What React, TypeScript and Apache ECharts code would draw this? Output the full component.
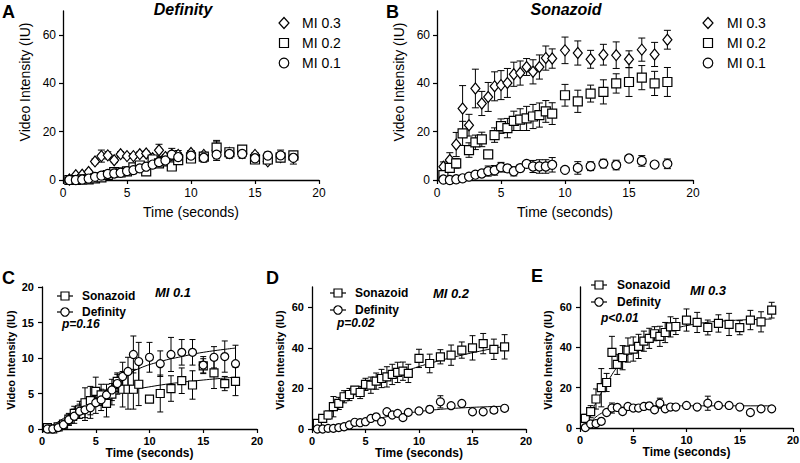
import React, { useEffect, useRef } from 'react';
import * as echarts from 'echarts';

// ---------- data ----------
const time = [0.5, 1, 1.5, 2, 2.5, 3, 3.5, 4, 4.5, 5, 5.5, 6, 6.5, 7, 7.5, 8, 8.5, 9, 10, 11, 12, 13, 14, 15, 16, 17, 18];
const xTicks = [0, 5, 10, 15, 20];
const yTicksWide = [0, 20, 40, 60];
const yTicksNarrow = [0, 5, 10, 15, 20];

// Sonazoid as shown in panel B
const sonazoidB03 = [5.5, 8.3, 14.7, 29.6, 22.7, 37.9, 31.7, 34.4, 38.8, 39.3, 40.2, 43.8, 44.3, 46.8, 44.8, 46.8, 50.5, 50.3, 53.7, 52.6, 50, 51.9, 51.7, 50, 54, 52, 58.1];
const sonazoidB02 = [2, 5, 6.9, 19.3, 12.4, 15.6, 16.8, 10.6, 18.6, 22.3, 21.5, 24.5, 25, 25.5, 26.3, 26.9, 28.4, 27.5, 35.1, 32.6, 35.8, 36.5, 40, 40.6, 42.4, 40, 40.6];
// Sonazoid as shown in panels D / E
const sonazoidE03 = [4.8, 8.1, 14.4, 20, 22.6, 37.5, 31.6, 34.9, 38.7, 39.2, 40.5, 43.1, 44.5, 46.8, 45.5, 47.4, 50.2, 50.4, 53.6, 52.4, 49.9, 51.9, 51.4, 49.8, 53.6, 52.7, 58.5];
const sonazoidD02 = [2.8, 5.2, 6.9, 11, 12.6, 15.9, 17, 19.2, 18, 22, 21.6, 23.6, 24.9, 25.7, 26.9, 27.9, 28.5, 27.4, 34.8, 32.3, 35.6, 36.4, 38.9, 40, 42.1, 39.3, 40.5];
const sonazoid01 = [0.2, 0, 0.3, 0.7, 1.4, 2.2, 2.7, 3.7, 4, 5.3, 4.8, 3.6, 4.9, 6.7, 5.6, 5.6, 5.6, 6.3, 4.2, 5, 5.7, 6.8, 6.2, 8.9, 7.9, 6.4, 6.7];
const sonazoid03Err = [2, 3, 5, 9.5, 4.5, 8, 5, 6, 6, 6, 6, 5, 5, 3.5, 5, 5, 5, 4, 5.5, 5, 3.7, 4.3, 5.5, 3.5, 4.8, 5, 3.9];
const sonazoid02Err = [1, 1.5, 2, 5, 3, 3, 3, 1, 3, 3, 4, 4, 4.5, 5, 5, 5, 4.5, 4.5, 4.5, 4.6, 3.5, 5, 4, 6, 5, 5, 6];
const sonazoid01Err = [0.3, 0.3, 0.3, 0.5, 0.8, 1, 1.2, 2.1, 2, 2, 1.5, 1.9, 1.5, 1, 2.5, 2.8, 2.8, 3, 0.3, 2.6, 1.8, 1.8, 2, 1, 2.2, 1, 2];

// Definity
const definity03 = [0.2, 2, 2.2, 3.3, 7.7, 9.9, 10.2, 8.2, 10.7, 9.9, 9.9, 10.7, 11, 9, 12.3, 9.5, 10.4, 10.4, 11.2, 10.4, 12.3, 11.2, 11.2, 10.4, 7.7, 9.5, 9.5];
const definity02 = [0, 0, 0.3, 0.3, 0.7, 1.1, 2, 3.3, 3.1, 3.6, 5.2, 6, 3.6, 8.5, 6.9, 7.7, 5.6, 8.2, 8.9, 9.7, 13.4, 11.5, 12.6, 8.5, 8.5, 9.3, 10.2];
const definity01 = [0, 0, 0.2, 0.6, 1.3, 1.8, 2.5, 2.7, 3, 3.7, 4.1, 4.8, 5.5, 6.4, 7.4, 8.1, 10.5, 9.5, 10.1, 9.2, 10.5, 10.8, 10.8, 9, 10.1, 10.2, 9.2];
const definity03Err = [0.3, 0.5, 0.5, 0.8, 1, 2.5, 1.5, 1, 1, 1, 1, 1, 1, 1, 2.5, 1, 1, 1, 1, 1, 3.5, 1, 1, 1, 1, 1, 1];
const definity02Err = [0.3, 0.3, 0.3, 0.3, 0.5, 0.5, 0.8, 1, 1, 1, 1, 1, 1, 1.2, 1, 1, 1, 1, 1, 1.5, 3, 1, 1, 1, 1, 1, 1];
const definity01Err = [0.2, 0.2, 0.3, 0.5, 0.8, 1, 1, 1.5, 1.5, 1.5, 1.5, 1.5, 1.5, 1.5, 2, 2, 2.6, 2.7, 2.1, 1.8, 2.4, 1.8, 1.8, 1.2, 1.5, 2.2, 2.6];

const fitCSonazoid = [[0.5, 0], [2, 1.5], [4, 3.4], [6, 4.9], [8, 5.5], [9, 5.7], [12, 6.4], [15, 6.9], [18, 7.3]];
const fitCDefinity = [[0.5, 0], [2, 1.2], [4, 3.2], [6, 5.5], [7.5, 7.3], [9, 8.5], [11, 9.5], [13, 10.2], [15, 10.8], [18, 11.4]];
const fitDSonazoid = [[0.5, 2.5], [1, 4.5], [2, 9], [3, 13.5], [4, 17], [5, 20.5], [6, 23], [7, 25.3], [8, 27.3], [9, 29], [10, 30.8], [12, 33.8], [14, 36.4], [16, 38.7], [18, 40.8]];
const fitDDefinity = [[1, 0], [2, 0.8], [4, 2.8], [6, 5], [8, 7], [10, 8.6], [12, 9.7], [14, 10.4], [16, 10.9], [18, 11.2]];
const fitESonazoid = [[0.5, 3], [1, 7.5], [1.5, 12.5], [2, 17.5], [2.5, 22], [3, 26.5], [3.5, 30.3], [4, 33.5], [5, 38.7], [6, 42.5], [7, 45.5], [8, 47.8], [9, 49.5], [10, 50.8], [12, 52.5], [14, 53.3], [16, 53.8], [18, 54.1]];
const fitEDefinity = [[0.5, 0], [1, 3], [1.5, 5.5], [2, 7.3], [2.5, 8.5], [3, 9.4], [4, 10.3], [5, 10.7], [7, 11], [10, 11], [18, 11]];

// ---------- styling ----------
const topFont = '"Liberation Sans", Arial, sans-serif';
const boldFont = '"Liberation Sans", Arial, sans-serif';

const grids = [
  { left: 63, top: 11, width: 256, height: 169 },
  { left: 437, top: 11, width: 256, height: 169 },
  { left: 42, top: 287, width: 215, height: 142 },
  { left: 312, top: 287, width: 214, height: 142 },
  { left: 580, top: 287, width: 213, height: 141 },
];

const pts = (vals: number[]) => time.map((t, i) => [t, vals[i]]);
const bars = (vals: number[], errs: number[]) => time.map((t, i) => [t, vals[i] - errs[i], vals[i] + errs[i]]);

function errorSeries(g: number, vals: number[], errs: number[], cap: number) {
  return {
    type: 'custom',
    xAxisIndex: g,
    yAxisIndex: g,
    clip: true,
    z: 2,
    silent: true,
    data: bars(vals, errs),
    encode: { x: 0, y: [1, 2] },
    renderItem: (params: any, api: any) => {
      const x = api.value(0);
      const top = api.coord([x, api.value(2)]);
      const bot = api.coord([x, Math.max(0, api.value(1))]);
      const hw = cap / 2;
      const st = { stroke: '#000', lineWidth: 1 };
      return {
        type: 'group',
        children: [
          { type: 'line', shape: { x1: top[0], y1: top[1], x2: bot[0], y2: bot[1] }, style: st },
          { type: 'line', shape: { x1: top[0] - hw, y1: top[1], x2: top[0] + hw, y2: top[1] }, style: st },
          { type: 'line', shape: { x1: bot[0] - hw, y1: bot[1], x2: bot[0] + hw, y2: bot[1] }, style: st },
        ],
      };
    },
  };
}

function markerSeries(g: number, name: string, vals: number[], symbol: string, size: any, z: number) {
  return {
    type: 'scatter',
    name,
    xAxisIndex: g,
    yAxisIndex: g,
    symbol,
    symbolSize: size,
    z,
    data: pts(vals),
    itemStyle: { color: '#fff', borderColor: '#000', borderWidth: 1.2, opacity: 1 },
  };
}

function fitSeries(g: number, data: number[][]) {
  return {
    type: 'line',
    xAxisIndex: g,
    yAxisIndex: g,
    data,
    smooth: true,
    showSymbol: false,
    symbol: 'none',
    z: 3,
    silent: true,
    lineStyle: { color: '#000', width: 1 },
  };
}

function xAxisFor(g: number, narrow: boolean) {
  return {
    type: 'value',
    gridIndex: g,
    min: 0,
    max: 20,
    interval: 5,
    name: 'Time (seconds)',
    nameLocation: 'middle',
    nameGap: narrow ? 17 : 25,
    nameTextStyle: narrow
      ? { fontFamily: boldFont, fontWeight: 'bold', fontSize: 12, color: '#000' }
      : { fontFamily: topFont, fontSize: 14, color: '#000' },
    axisLine: { show: true, onZero: false, lineStyle: { color: '#000', width: 1.3 } },
    axisTick: { show: true, length: 4, lineStyle: { color: '#000', width: 1.2 }, customValues: xTicks },
    axisLabel: narrow
      ? { fontFamily: boldFont, fontWeight: 'bold', fontSize: 11, color: '#000', margin: 6, customValues: xTicks }
      : { fontFamily: topFont, fontSize: 12, color: '#000', margin: 7, customValues: xTicks },
    splitLine: { show: false },
  };
}

function yAxisFor(g: number, max: number, interval: number, ticks: number[], narrow: boolean) {
  return {
    type: 'value',
    gridIndex: g,
    min: 0,
    max,
    interval,
    axisLine: { show: true, onZero: false, lineStyle: { color: '#000', width: 1.3 } },
    axisTick: { show: true, length: 4, lineStyle: { color: '#000', width: 1.2 }, customValues: ticks },
    axisLabel: narrow
      ? { fontFamily: boldFont, fontWeight: 'bold', fontSize: 11, color: '#000', margin: 8, customValues: ticks }
      : { fontFamily: topFont, fontSize: 12, color: '#000', margin: 7, customValues: ticks },
    splitLine: { show: false },
  };
}

const markStyle = { fill: '#fff', stroke: '#000', lineWidth: 1.2 };

function diamondAt(cx: number, cy: number, w: number, h: number) {
  return {
    type: 'polygon',
    shape: { points: [[cx, cy - h / 2], [cx + w / 2, cy], [cx, cy + h / 2], [cx - w / 2, cy]] },
    style: markStyle,
  };
}
function squareAt(cx: number, cy: number, s: number) {
  return { type: 'rect', shape: { x: cx - s / 2, y: cy - s / 2, width: s, height: s }, style: markStyle };
}
function circleAt(cx: number, cy: number, r: number) {
  return { type: 'circle', shape: { cx, cy, r }, style: markStyle };
}
function txt(x: number, y: number, text: string, o: any) {
  return {
    type: 'text',
    x,
    y,
    style: { text, fill: '#000', verticalAlign: 'middle', align: 'left', ...o },
  };
}

function topLegend(mx: number, tx: number) {
  const f = { fontFamily: topFont, fontSize: 14 };
  return [
    diamondAt(mx, 23, 10, 11),
    txt(tx, 23, 'MI 0.3', f),
    squareAt(mx, 43, 9),
    txt(tx, 43, 'MI 0.2', f),
    circleAt(mx, 63, 4.8),
    txt(tx, 63, 'MI 0.1', f),
  ];
}

function bottomLegend(mx: number, tx: number, y1: number, y2: number, pText: string, py: number, px: number) {
  const f = { fontFamily: boldFont, fontSize: 12, fontWeight: 'bold' };
  const ln = (y: number) => ({ type: 'line', shape: { x1: mx - 8, y1: y, x2: mx + 8, y2: y }, style: { stroke: '#000', lineWidth: 1.2 } });
  return [
    ln(y1),
    squareAt(mx, y1, 8),
    txt(tx, y1, 'Sonazoid', f),
    ln(y2),
    circleAt(mx, y2, 4.2),
    txt(tx, y2, 'Definity', f),
    txt(px, py, pText, { fontFamily: topFont, fontSize: 12, fontWeight: 'bold', fontStyle: 'italic' }),
  ];
}

function yName(x: number, y: number, narrow: boolean) {
  return {
    type: 'text',
    x,
    y,
    rotation: Math.PI / 2,
    style: {
      text: 'Video Intensity (IU)',
      fill: '#000',
      align: 'center',
      verticalAlign: 'middle',
      fontFamily: narrow ? boldFont : topFont,
      fontSize: narrow ? 11 : 14,
      fontWeight: narrow ? 'bold' : 'normal',
    },
  };
}

export default function App() {
  const ref = useRef<HTMLDivElement>(null);
  useEffect(() => {
    if (!ref.current) return;
    const chart = echarts.init(ref.current, null, { renderer: 'svg' });
    const letterF = { fontFamily: topFont, fontSize: 18, fontWeight: 'bold' };
    const titleF = { fontFamily: topFont, fontSize: 16, fontWeight: 'bold', fontStyle: 'italic', align: 'center' };
    const miF = { fontFamily: topFont, fontSize: 13, fontWeight: 'bold', fontStyle: 'italic', align: 'center' };

    const series: any[] = [
      // Panel A: Definity
      errorSeries(0, definity03, definity03Err, 7),
      errorSeries(0, definity02, definity02Err, 7),
      errorSeries(0, definity01, definity01Err, 7),
      markerSeries(0, 'MI 0.3', definity03, 'diamond', [9, 11], 5),
      markerSeries(0, 'MI 0.2', definity02, 'rect', 9, 6),
      markerSeries(0, 'MI 0.1', definity01, 'circle', 9, 7),
      // Panel B: Sonazoid
      errorSeries(1, sonazoidB03, sonazoid03Err, 7),
      errorSeries(1, sonazoidB02, sonazoid02Err, 7),
      errorSeries(1, sonazoid01, sonazoid01Err, 7),
      markerSeries(1, 'MI 0.3', sonazoidB03, 'diamond', [9, 11], 5),
      markerSeries(1, 'MI 0.2', sonazoidB02, 'rect', 9, 6),
      markerSeries(1, 'MI 0.1', sonazoid01, 'circle', 9, 7),
      // Panel C: MI 0.1
      errorSeries(2, sonazoid01, sonazoid01Err, 6),
      errorSeries(2, definity01, definity01Err, 6),
      fitSeries(2, fitCSonazoid),
      fitSeries(2, fitCDefinity),
      markerSeries(2, 'Sonazoid', sonazoid01, 'rect', 8, 5),
      markerSeries(2, 'Definity', definity01, 'circle', 8, 6),
      // Panel D: MI 0.2
      errorSeries(3, sonazoidD02, sonazoid02Err, 6),
      errorSeries(3, definity02, definity02Err, 6),
      fitSeries(3, fitDSonazoid),
      fitSeries(3, fitDDefinity),
      markerSeries(3, 'Sonazoid', sonazoidD02, 'rect', 8, 5),
      markerSeries(3, 'Definity', definity02, 'circle', 8, 6),
      // Panel E: MI 0.3
      errorSeries(4, sonazoidE03, sonazoid03Err, 6),
      errorSeries(4, definity03, definity03Err, 6),
      fitSeries(4, fitESonazoid),
      fitSeries(4, fitEDefinity),
      markerSeries(4, 'Sonazoid', sonazoidE03, 'rect', 8, 5),
      markerSeries(4, 'Definity', definity03, 'circle', 8, 6),
    ];

    chart.setOption({
      animation: false,
      backgroundColor: '#fff',
      grid: grids.map((g) => ({ ...g, outerBoundsMode: 'none', containLabel: false })),
      xAxis: [0, 1, 2, 3, 4].map((g) => xAxisFor(g, g >= 2)),
      yAxis: [
        yAxisFor(0, 70, 10, yTicksWide, false),
        yAxisFor(1, 70, 10, yTicksWide, false),
        yAxisFor(2, 20, 5, yTicksNarrow, true),
        yAxisFor(3, 70, 10, yTicksWide, true),
        yAxisFor(4, 70, 10, yTicksWide, true),
      ],
      series,
      graphic: [
        txt(2, 12, 'A', letterF),
        txt(386, 12, 'B', letterF),
        txt(2, 278, 'C', letterF),
        txt(266, 278, 'D', letterF),
        txt(531, 276, 'E', letterF),
        txt(183, 9, 'Definity', titleF),
        txt(566, 9, 'Sonazoid', titleF),
        txt(173, 292, 'MI 0.1', miF),
        txt(451, 293, 'MI 0.2', miF),
        txt(708, 290, 'MI 0.3', miF),
        yName(25, 82, false),
        yName(399, 82, false),
        yName(11, 360, true),
        yName(280, 360, true),
        yName(548, 360, true),
        ...topLegend(284, 302),
        ...topLegend(708, 727),
        ...bottomLegend(65, 82, 296, 312, 'p=0.16', 324, 62),
        ...bottomLegend(338, 355, 293, 310, 'p=0.02', 323, 337),
        ...bottomLegend(599, 617, 285, 302, 'p<0.01', 318, 601),
      ],
    });
    return () => chart.dispose();
  }, []);
  return <div ref={ref} style={{ position: 'fixed', left: 0, top: 0, width: 800, height: 463 }} />;
}
